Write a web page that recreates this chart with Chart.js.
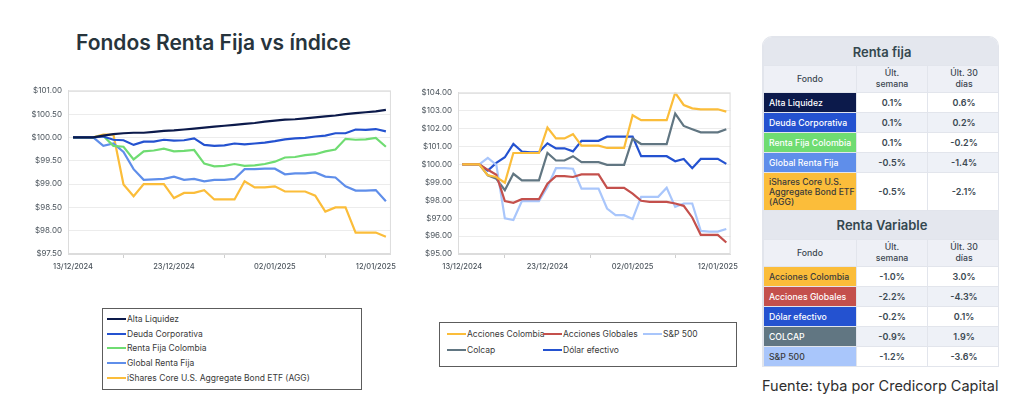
<!DOCTYPE html>
<html>
<head>
<meta charset="utf-8">
<script src="https://cdn.jsdelivr.net/npm/chart.js@4.4.1/dist/chart.umd.min.js"></script>
<style>
  body { margin: 0; width: 1024px; height: 410px; background: #fff; font-family: Inter, "Noto Sans", sans-serif; position: relative; overflow: hidden; }
  .abs { position: absolute; }
  #titulo { left: 76px; top: 32px; font-size: 21px; font-weight: 600; color: #27343c; line-height: 22px; }
  #boxIzq { left: 20px; top: 80px; width: 380px; height: 200px; }
  #boxDer { left: 410px; top: 82px; width: 332px; height: 198px; }
  .leyenda { border: 1px solid #5c5c5c; font-size: 8.5px; color: #3a3a3a; box-sizing: border-box; }
  .leyenda .item { position: absolute; display: flex; align-items: center; white-space: nowrap; }
  .leyenda .muestra { width: 19px; height: 2px; margin-right: 1px; }
  #leyIzq { left: 102px; top: 308px; width: 260px; height: 82px; }
  #leyDer { left: 439px; top: 322px; width: 298px; height: 45px; }
  #tabla { left: 762px; top: 36px; width: 237px; }
  table { border-collapse: collapse; width: 237px; table-layout: fixed; font-size: 8.7px; }
  td, th { border: 1px solid #e2e5ec; padding: 0; text-align: center; }
  .cab { background: #e4e7ee; color: #34474f; font-size: 13px; font-weight: 600; height: 27px; }
  .colcab { background: #eef0f6; color: #3b4650; font-weight: 500; height: 26px; line-height: 11px; }
  .nom { text-align: left; padding-left: 5px; color: #fff; font-weight: 500; height: 19px; }
  .val { color: #3b4852; font-weight: 600; font-size: 9px; }
  .alt .val { background: #eef1f7; }
  #fuente { left: 762px; top: 377px; font-size: 14.5px; color: #2e2e2e; white-space: nowrap; }
</style>
</head>
<body>
<div id="titulo" class="abs">Fondos Renta Fija vs índice</div>
<div id="boxIzq" class="abs"><canvas id="chartIzq"></canvas></div>
<div id="boxDer" class="abs"><canvas id="chartDer"></canvas></div>
<div id="leyIzq" class="abs leyenda"></div>
<div id="leyDer" class="abs leyenda"></div>
<div id="tabla" class="abs"></div>
<div id="fuente" class="abs">Fuente: tyba por Credicorp Capital</div>
<script>
const dias = ['13/12/2024', '14/12/2024', '15/12/2024', '16/12/2024', '17/12/2024', '18/12/2024', '19/12/2024', '20/12/2024',
  '21/12/2024', '22/12/2024', '23/12/2024', '24/12/2024', '25/12/2024', '26/12/2024', '27/12/2024', '28/12/2024',
  '29/12/2024', '30/12/2024', '31/12/2024', '01/01/2025', '02/01/2025', '03/01/2025', '04/01/2025', '05/01/2025',
  '06/01/2025', '07/01/2025', '08/01/2025', '09/01/2025', '10/01/2025', '11/01/2025', '12/01/2025', '13/01/2025'];
const diasVisibles = ['13/12/2024', '23/12/2024', '02/01/2025', '12/01/2025'];

// renta fija
const altaLiquidez = [100.00, 100.00, 100.00, 100.04, 100.07, 100.09, 100.10, 100.10, 100.12, 100.14, 100.15, 100.17, 100.19, 100.21, 100.23, 100.25,
  100.27, 100.29, 100.31, 100.34, 100.36, 100.38, 100.39, 100.41, 100.43, 100.45, 100.47, 100.50, 100.52, 100.54, 100.56, 100.59];
const deudaCorporativa = [100.00, 100.00, 100.00, 100.02, 99.95, 99.94, 99.84, 99.91, 99.91, 99.95, 99.93, 99.94, 99.98, 99.84, 99.82, 99.83,
  99.87, 99.85, 99.87, 99.89, 99.92, 99.96, 99.98, 99.99, 100.02, 100.04, 100.09, 100.09, 100.17, 100.16, 100.18, 100.13];
const rentaFijaColombia = [100.00, 100.00, 100.00, 100.03, 99.82, 99.80, 99.53, 99.70, 99.72, 99.76, 99.70, 99.71, 99.73, 99.44, 99.38, 99.39,
  99.43, 99.39, 99.40, 99.43, 99.48, 99.57, 99.58, 99.62, 99.64, 99.70, 99.74, 99.97, 99.95, 99.96, 99.99, 99.80];
const globalRentaFija = [100.00, 100.00, 100.00, 99.82, 99.87, 99.69, 99.32, 99.09, 99.10, 99.11, 99.16, 99.09, 99.11, 99.06, 99.09, 99.09,
  99.11, 99.32, 99.32, 99.33, 99.33, 99.21, 99.23, 99.23, 99.25, 99.16, 99.14, 98.95, 98.86, 98.86, 98.87, 98.63];
const ishares = [100.00, 100.00, 100.00, 100.06, 100.06, 98.99, 98.74, 99.00, 99.00, 99.00, 98.70, 98.81, 98.81, 98.87, 98.67, 98.67,
  98.67, 99.06, 98.93, 98.93, 98.95, 98.84, 98.84, 98.84, 98.75, 98.41, 98.50, 98.50, 97.96, 97.96, 97.96, 97.87];

// renta variable
const accionesColombia = [100.00, 100.00, 100.00, 99.39, 99.30, 98.98, 100.64, 100.64, 100.64, 100.64, 102.06, 101.45, 101.45, 101.69, 101.05, 101.05,
  101.05, 100.92, 100.92, 100.92, 102.75, 102.47, 102.47, 102.47, 102.47, 104.00, 103.32, 103.13, 103.08, 103.08, 103.08, 102.95];
const accionesGlobales = [100.00, 100.00, 100.00, 99.70, 99.42, 97.95, 97.86, 98.06, 98.06, 98.06, 98.93, 99.35, 99.35, 99.30, 99.44, 99.44,
  99.44, 98.69, 98.69, 98.69, 98.37, 97.97, 97.91, 97.91, 97.91, 97.82, 97.69, 97.04, 96.07, 96.07, 96.07, 95.64];
const sp500 = [100.00, 100.00, 100.00, 100.37, 99.98, 96.99, 96.90, 97.95, 97.95, 97.95, 98.74, 99.79, 99.79, 99.76, 98.65, 98.65,
  98.65, 97.54, 97.17, 97.17, 96.95, 98.19, 98.19, 98.19, 98.70, 97.63, 97.82, 97.82, 96.29, 96.25, 96.25, 96.40];
const colcap = [100.00, 100.00, 100.00, 99.39, 99.20, 98.56, 99.48, 99.11, 99.11, 99.11, 100.64, 100.22, 100.22, 100.46, 100.13, 100.13,
  100.13, 99.98, 99.98, 99.98, 101.45, 101.14, 101.14, 101.14, 101.14, 102.84, 102.15, 101.97, 101.79, 101.79, 101.79, 101.97];
const dolarEfectivo = [100.00, 100.00, 100.00, 99.66, 100.09, 100.40, 101.14, 100.72, 100.68, 100.68, 101.18, 100.90, 100.90, 100.73, 101.32, 101.32,
  101.32, 101.55, 101.55, 101.55, 101.56, 100.46, 100.46, 100.46, 100.46, 100.18, 100.31, 99.79, 100.31, 100.31, 100.31, 100.03];

const nombresFija = ['Alta Liquidez', 'Deuda Corporativa', 'Renta Fija Colombia', 'Global Renta Fija', 'iShares Core U.S. Aggregate Bond ETF (AGG)'];
const coloresFija = ['#0c1a4b', '#2452d0', '#6fdc72', '#5f8eea', '#fbbd3a'];
const nombresVar = ['Acciones Colombia', 'Acciones Globales', 'S&P 500', 'Colcap', 'Dólar efectivo'];
const coloresVar = ['#fbbd3a', '#c4504c', '#a9c6fb', '#617682', '#2452d0'];

// tabla
const semanaFija = ['0.1%', '0.1%', '0.1%', '-0.5%', '-0.5%'];
const treintaFija = ['0.6%', '0.2%', '-0.2%', '-1.4%', '-2.1%'];
const nombresTablaFija = ['Alta Liquidez', 'Deuda Corporativa', 'Renta Fija Colombia', 'Global Renta Fija', 'iShares Core U.S. Aggregate Bond ETF (AGG)'];
const nombresTablaVar = ['Acciones Colombia', 'Acciones Globales', 'Dólar efectivo', 'COLCAP', 'S&P 500'];
const coloresTablaVar = ['#fbbd3a', '#c4504c', '#2452d0', '#617682', '#a9c6fb'];
const semanaVar = ['-1.0%', '-2.2%', '-0.2%', '-0.9%', '-1.2%'];
const treintaVar = ['3.0%', '-4.3%', '0.1%', '1.9%', '-3.6%'];

const marco = {
  id: 'marco',
  afterDraw(chart) {
    const a = chart.chartArea, c = chart.ctx;
    c.save();
    c.strokeStyle = '#dcdcdc';
    c.lineWidth = 1;
    c.strokeRect(a.left + 0.5, a.top + 0.5, a.right - a.left - 1, a.bottom - a.top - 1);
    c.restore();
  }
};

function crearGrafico(id, series, nombres, colores, yMin, yMax, paso) {
  return new Chart(document.getElementById(id), {
    type: 'line',
    data: {
      labels: dias,
      datasets: series.map((s, i) => ({
        label: nombres[i],
        data: s,
        borderColor: colores[i],
        borderWidth: 2.2,
        pointRadius: 0,
        tension: 0,
        fill: false
      }))
    },
    options: {
      responsive: true,
      maintainAspectRatio: false,
      animation: false,
      layout: { padding: { top: 9, right: 5 } },
      plugins: { legend: { display: false }, tooltip: { enabled: false } },
      scales: {
        x: {
          offset: true,
          grid: { offset: true, drawOnChartArea: false, tickLength: 4, color: '#cfcfcf' },
          border: { color: '#dcdcdc' },
          ticks: {
            autoSkip: false,
            maxRotation: 0,
            padding: 4,
            color: '#4b545c',
            font: { family: 'Inter', size: 7.5, weight: 500 },
            callback: function(v) {
              const d = this.getLabelForValue(v);
              return diasVisibles.includes(d) ? d : null;
            }
          },
          afterFit: s => { s.height = 26; }
        },
        y: {
          min: yMin,
          max: yMax,
          grid: { color: '#ececec', drawTicks: false },
          border: { color: '#dcdcdc' },
          ticks: {
            stepSize: paso,
            padding: 6,
            color: '#4b545c',
            font: { family: 'Inter', size: 8 },
            callback: v => '$' + v.toFixed(2)
          },
          afterFit: s => { s.width = 48; }
        }
      }
    },
    plugins: [marco]
  });
}

crearGrafico('chartIzq', [altaLiquidez, deudaCorporativa, rentaFijaColombia, globalRentaFija, ishares], nombresFija, coloresFija, 97.5, 101, 0.5);
crearGrafico('chartDer', [accionesColombia, accionesGlobales, sp500, colcap, dolarEfectivo], nombresVar, coloresVar, 95, 104, 1);

// leyendas
function item(cont, nombre, color, x, y) {
  const d = document.createElement('div');
  d.className = 'item';
  d.style.left = x + 'px';
  d.style.top = y + 'px';
  d.innerHTML = '<span class="muestra" style="background:' + color + '"></span><span></span>';
  d.lastChild.textContent = nombre;
  cont.appendChild(d);
}
const leyIzq = document.getElementById('leyIzq');
nombresFija.forEach((n, i) => item(leyIzq, n, coloresFija[i], 4, 5 + i * 14.7));
const leyDer = document.getElementById('leyDer');
const posDer = [[7, 6], [103, 6], [203, 6], [7, 22], [103, 22]];
nombresVar.forEach((n, i) => item(leyDer, n, coloresVar[i], posDer[i][0], posDer[i][1]));

// tabla
function oscuro(c) { return c === '#fbbd3a' || c === '#a9c6fb'; }
let html = '<div style="border-radius:10px 10px 0 0;overflow:hidden;border:1px solid #e2e5ec;border-bottom:none"><table>' +
  '<colgroup><col style="width:93px"><col style="width:71px"><col style="width:73px"></colgroup>' +
  '<tr><td colspan="3" class="cab">Renta fija</td></tr>' +
  '<tr><td class="colcab">Fondo</td><td class="colcab">Últ.<br>semana</td><td class="colcab">Últ. 30<br>días</td></tr>';
nombresTablaFija.forEach((n, i) => {
  const c = coloresFija[i];
  const alto = i === 4 ? 'height:37px;line-height:10px;' : '';
  html += '<tr class="' + (i % 2 ? 'alt' : '') + '"><td class="nom" style="' + alto + 'background:' + c + ';color:' + (oscuro(c) ? '#3a3a3a' : '#fff') + '">' + n + '</td>' +
    '<td class="val">' + semanaFija[i] + '</td><td class="val">' + treintaFija[i] + '</td></tr>';
});
html += '<tr><td colspan="3" class="cab" style="height:28px">Renta Variable</td></tr>' +
  '<tr><td class="colcab">Fondo</td><td class="colcab">Últ.<br>semana</td><td class="colcab">Últ. 30<br>días</td></tr>';
nombresTablaVar.forEach((n, i) => {
  const c = coloresTablaVar[i];
  html += '<tr class="' + (i % 2 ? 'alt' : '') + '"><td class="nom" style="background:' + c + ';color:' + (oscuro(c) ? '#3a3a3a' : '#fff') + '">' + n + '</td>' +
    '<td class="val">' + semanaVar[i] + '</td><td class="val">' + treintaVar[i] + '</td></tr>';
});
html += '</table></div>';
document.getElementById('tabla').innerHTML = html;
</script>
</body>
</html>
